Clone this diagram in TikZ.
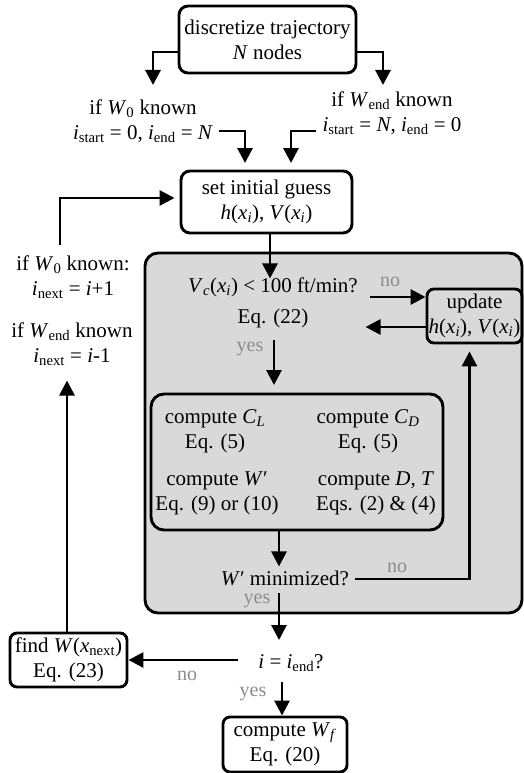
\documentclass[tikz,border=0pt]{standalone}
\usepackage{fontspec}
\setmainfont{Liberation Serif}
\usetikzlibrary{positioning,arrows.meta}
\definecolor{loopgray}{RGB}{217,217,217}
\definecolor{anslab}{RGB}{140,140,140}
\newcommand{\ital}[1]{\textit{#1}}
\newcommand{\idx}[1]{\textsubscript{#1}}
\newcommand{\flowfont}{\fontsize{21}{25}\selectfont}
\tikzset{
  box/.style={draw,line width=2.9pt,rounded corners=9pt,align=center,inner sep=1pt,font=\flowfont},
  txt/.style={align=center,inner sep=1pt,font=\flowfont},
  ans/.style={text=anslab,inner sep=0pt,font=\fontsize{20}{24}\selectfont},
  flow/.style={line width=2.9pt,-{Triangle[length=15pt,width=15pt]}},
  every picture/.style={x=1pt,y=-1pt}
}

\begin{document}
\begin{tikzpicture}
    \useasboundingbox (0,0) rectangle (524,773);
    \node[draw,line width=2.9pt,fill=loopgray,rounded corners=13pt,minimum width=377pt,minimum height=360pt] (loop) at (333.5,433) {};
    \node[box,minimum width=177pt,minimum height=67pt] (disc) at (267.5,39.5) {discretize trajectory\\\ital{N} nodes};
    \node[txt] (w0) at (143,121) {if \ital{W}\idx{0} known\\\ital{i}\idx{start} = 0, \ital{i}\idx{end} = \ital{N}};
    \node[txt] (wend) at (392,113) {if \ital{W}\idx{end} known\\\ital{i}\idx{start} = \ital{N}, \ital{i}\idx{end} = 0};
    \node[box,minimum width=171pt,minimum height=62pt] (init) at (266.5,202) {set initial guess\\\ital{h}(\ital{x}\idx{\ital{i}}), \ital{V}(\ital{x}\idx{\ital{i}})};
    \node[txt] (nxta) at (73,277) {if \ital{W}\idx{0} known:\\\ital{i}\idx{next} = \ital{i}+1};
    \node[txt] (nxtb) at (72,344) {if \ital{W}\idx{end} known\\\ital{i}\idx{next} = \ital{i}-1};
    \node[txt] (vc) at (273,302.5) {\ital{V}\idx{\ital{c}}(\ital{x}\idx{\ital{i}}) < 100 ft/min?\\[6pt]Eq. (22)};
    \node[box,rounded corners=7pt,minimum width=95pt,minimum height=54pt] (update) at (474.5,316) {update\\\ital{h}(\ital{x}\idx{\ital{i}}), \ital{V}(\ital{x}\idx{\ital{i}})};
    \node[box,rounded corners=13pt,minimum width=292pt,minimum height=136pt] (calcs) at (297,462) {};
    \node[txt] (cl) at (215,431) {compute \ital{C}\idx{\ital{L}}\\Eq. (5)};
    \node[txt] (cd) at (368,431) {compute \ital{C}\idx{\ital{D}}\\Eq. (5)};
    \node[txt] (wp) at (217,493.5) {compute \ital{W}′\\Eq. (9) or (10)};
    \node[txt] (dt) at (376,493.5) {compute \ital{D, T}\\Eqs. (2) \& (4)};
    \node[txt] (wmin) at (285,578) {\ital{W}′ minimized?};
    \node[txt] (iend) at (291,663) {\ital{i} = \ital{i}\idx{end}?};
    \node[box,rounded corners=7pt,minimum width=117pt,minimum height=54pt] (find) at (68.5,660) {find \ital{W}(\ital{x}\idx{next})\\Eq. (23)};
    \node[box,rounded corners=7pt,minimum width=124pt,minimum height=55pt] (wf) at (285,744.5) {compute \ital{W}\idx{\ital{f}}\\Eq. (20)};
    \node[ans] (no1) at (390,282) {no}; \node[ans] (yes1) at (250,349) {yes};
    \node[ans] (no2) at (397,568) {no}; \node[ans] (yes2) at (257,601) {yes};
    \node[ans] (no3) at (187,676) {no}; \node[ans] (yes3) at (253,694) {yes};
    \coordinate (w0in) at (153,85); \coordinate (wendin) at (383,85);
    \coordinate (w0out) at (219,131); \coordinate (guessl) at (245,163);
    \coordinate (wendout) at (316,131); \coordinate (guessr) at (291,163);
    \coordinate (nxtup) at (60,245);
    \coordinate (vcno) at (370,297); \coordinate (vcyes) at (274,340);
    \coordinate (wminno) at (355,579); \coordinate (wminyes) at (279,593);
    \coordinate (iendno) at (238,660); \coordinate (iendyes) at (282,682);
    \draw[flow] ([yshift=-12.5pt]disc.west) -| (w0in); \draw[flow] ([yshift=-12.5pt]disc.east) -| (wendin);
    \draw[flow] (w0out) -| (guessl); \draw[flow] (wendout) -| (guessr);
    \draw[flow] (nxtup) |- ([xshift=-5pt,yshift=4pt]init.west);
    \draw[flow] ([xshift=3.5pt]init.south) -- ++(0,44);
    \draw[flow] (vcno) -- (vcno -| update.west);
    \draw[flow] ([yshift=-11pt]update.west) -- ++(-60,0);
    \draw[flow] (vcyes) -- ++(0,45);
    \draw[flow] ([xshift=-18pt]calcs.south) -- ++(0,35);
    \draw[flow] (wminno) -| ([xshift=-5pt,yshift=-7pt]update.south);
    \draw[flow] (wminyes) -- ++(0,47);
    \draw[flow] (iendno) -- (iendno -| find.east);
    \draw[flow] (iendyes) -- (iendyes |- wf.north);
    \draw[flow] ([xshift=-1.5pt]find.north) -- ++(0,-251);
  \end{tikzpicture}
\end{document}
